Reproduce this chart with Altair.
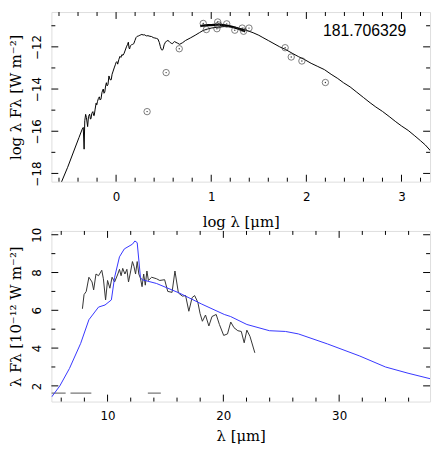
import altair as alt
import pandas as pd

# ---------------- top panel data ----------------
top_model_x = [-0.577, -0.509, -0.44, -0.39, -0.356, -0.345, -0.336, -0.329, -0.320, -0.312, -0.299,
               -0.290, -0.278, -0.270, -0.264, -0.255, -0.244, -0.236, -0.230, -0.220, -0.210, -0.203,
               -0.196, -0.186, -0.176, -0.168, -0.159, -0.148, -0.135, -0.127, -0.119, -0.110, -0.102,
               -0.094, -0.085, -0.075, -0.063, -0.051, -0.042, -0.034, -0.020, -0.008, 0.000, 0.008,
               0.017, 0.029, 0.041, 0.051, 0.061, 0.073, 0.085, 0.097, 0.109, 0.119, 0.129, 0.136,
               0.142, 0.150, 0.163, 0.175, 0.186, 0.198, 0.210, 0.222, 0.237, 0.250, 0.260, 0.271,
               0.285, 0.295, 0.305, 0.320, 0.335, 0.356, 0.373, 0.390, 0.407, 0.425, 0.440, 0.455,
               0.465, 0.475, 0.485, 0.495, 0.505, 0.519, 0.532, 0.545, 0.558, 0.570, 0.580, 0.593,
               0.605, 0.615, 0.630, 0.644, 0.668, 0.700, 0.729, 0.780, 0.831, 0.875, 0.916, 0.960,
               1.000, 1.060, 1.136, 1.200, 1.270, 1.330, 1.373, 1.440, 1.500, 1.543, 1.600, 1.660,
               1.720, 1.780, 1.850, 1.920, 1.980, 2.050, 2.120, 2.190, 2.260, 2.330, 2.390, 2.460,
               2.530, 2.600, 2.670, 2.730, 2.800, 2.870, 2.940, 3.000, 3.070, 3.140, 3.200, 3.250, 3.310]
top_model_y = [-18.44, -17.71, -16.89, -16.30, -15.90, -15.82, -16.85, -15.50, -15.20, -15.35, -15.78,
               -15.30, -15.19, -15.42, -15.41, -15.15, -15.07, -15.25, -15.26, -14.95, -14.67, -14.75,
               -14.60, -14.45, -14.37, -14.52, -14.48, -14.15, -14.00, -14.20, -14.15, -13.85, -13.70,
               -13.85, -13.78, -13.38, -13.56, -13.56, -13.30, -13.19, -13.00, -12.85, -12.74, -12.70,
               -12.82, -12.60, -12.45, -12.50, -12.37, -12.40, -12.30, -12.15, -12.00, -11.90, -11.78, -12.05,
               -12.10, -11.95, -11.90, -11.88, -11.85, -11.70, -11.56, -11.50, -11.48, -11.45, -11.43, -11.41,
               -11.44, -11.42, -11.45, -11.48, -11.47, -11.50, -11.51, -11.56, -11.58, -11.60, -11.63, -11.80,
               -11.98, -12.12, -12.16, -12.10, -11.90, -11.78, -11.72, -11.70, -11.74, -11.80, -11.83, -11.85,
               -11.78, -11.75, -11.79, -11.82, -11.88, -11.80, -11.70, -11.58, -11.45, -11.33, -11.22, -11.16,
               -11.11, -11.07, -11.04, -11.05, -11.10, -11.16, -11.22, -11.33, -11.45, -11.56, -11.70, -11.85,
               -12.00, -12.12, -12.30, -12.47, -12.60, -12.78, -12.93, -13.08, -13.30, -13.50, -13.70, -13.90,
               -14.15, -14.40, -14.65, -14.85, -15.06, -15.30, -15.55, -15.75, -15.96, -16.22, -16.45, -16.65, -16.95]

top_irs_x = [0.885, 0.91, 0.94, 0.97, 1.00, 1.03, 1.06, 1.08, 1.10, 1.13, 1.16, 1.19, 1.22, 1.25, 1.28, 1.31, 1.335, 1.356]
top_irs_y = [-11.02, -10.99, -10.98, -10.97, -10.97, -10.96, -10.95, -10.93, -10.96, -10.97, -10.99, -11.02, -11.05, -11.09, -11.13, -11.18, -11.22, -11.28]

phot_x = [0.326, 0.526, 0.664, 0.916, 0.949, 1.060, 1.068, 1.078, 1.163, 1.248, 1.326, 1.340, 1.397, 1.777, 1.841, 1.953, 2.200]
phot_y = [-15.07, -13.22, -12.09, -10.89, -11.18, -11.14, -10.82, -10.96, -10.91, -11.21, -11.11, -11.26, -11.11, -12.04, -12.48, -12.67, -13.69]

label_text = ["181.706329"]
label_x = [3.05]
label_y = [-11.26]

top_xmajor = [0, 1, 2, 3]
top_xminor = [-0.6, -0.4, -0.2, 0.2, 0.4, 0.6, 0.8, 1.2, 1.4, 1.6, 1.8, 2.2, 2.4, 2.6, 2.8, 3.2]
top_ymajor = [-18, -16, -14, -12]
top_yminor = [-17, -15, -13, -11]

# ---------------- bottom panel data ----------------
blue_x = [5.18, 5.88, 6.71, 7.68, 8.39, 9.22, 9.78, 10.33, 10.61, 11.03, 11.45, 12.15, 12.36, 12.56,
          12.84, 12.98, 14.23, 16.18, 18.13, 20.08, 20.63, 22.03, 23.98, 25.37, 26.48, 28.99, 31.78,
          34.0, 35.95, 37.85]
blue_y = [1.42, 2.0, 2.92, 4.25, 5.5, 6.17, 6.28, 6.55, 7.75, 8.83, 9.25, 9.5, 9.67, 9.58,
          7.75, 7.62, 7.42, 6.92, 6.33, 5.78, 5.67, 5.25, 4.92, 4.88, 4.75, 4.22, 3.58,
          3.0, 2.67, 2.38]

spec_x = [7.83, 7.97, 8.16, 8.39, 8.66, 8.8, 9.0, 9.22, 9.5, 9.64, 9.83, 10.0, 10.2, 10.39, 10.61,
          10.89, 11.03, 11.17, 11.31, 11.5, 11.67, 11.81, 12.0, 12.15, 12.28, 12.42, 12.56, 12.7,
          12.84, 12.98, 13.12, 13.26, 13.4, 13.53, 13.81, 14.23, 14.51, 14.93, 15.2, 15.57, 15.82,
          16.12, 16.46, 16.74, 17.02, 17.3, 17.52, 17.8, 17.99, 18.19, 18.46, 18.75, 19.02, 19.38,
          19.66, 20.03, 20.36, 20.64, 20.92, 21.25, 21.55, 21.8, 22.03, 22.3, 22.72]
spec_y = [6.08, 6.83, 7.0, 7.75, 7.5, 7.08, 7.92, 7.83, 8.12, 7.67, 6.55, 7.58, 7.17, 7.75, 7.5,
          7.92, 8.17, 7.83, 8.22, 7.92, 8.17, 7.5, 8.08, 8.58, 8.33, 7.92, 8.58, 7.92,
          7.7, 7.25, 7.92, 7.33, 8.08, 7.58, 7.75, 7.67, 7.58, 7.62, 7.0, 6.95, 8.08,
          6.92, 6.75, 6.78, 5.95, 6.67, 6.78, 6.42, 5.83, 5.42, 5.75, 5.17, 5.67, 5.78,
          5.25, 4.67, 4.75, 5.38, 5.08, 4.92, 4.88, 4.28, 4.95, 4.62, 3.75]

gray_x1 = [5.15, 6.8, 13.48]
gray_x2 = [6.38, 8.6, 14.6]
gray_y = [1.62, 1.62, 1.62]

bot_xmajor = [10, 20, 30]
bot_xminor = [6, 8, 12, 14, 16, 18, 22, 24, 26, 28, 32, 34, 36]
bot_ymajor = [2, 4, 6, 8, 10]
bot_yminor = [3, 5, 7, 9]

# ---------------- layout ----------------
W = 384
H1 = 172
H2 = 173
MAJ = 7
MIN = 4
LABEL_FONT = "DejaVu Sans"
TITLE_FONT = "DejaVu Serif"


def panel(xdom, ydom, xmaj, xmin, ymaj, ymin, xtitle, ytitle, H, xlabpad, xtitpad):
    xs = alt.Scale(domain=xdom, nice=False, zero=False)
    ys = alt.Scale(domain=ydom, nice=False, zero=False)
    xaxis = alt.Axis(values=xmaj, title=xtitle, format="d", domain=False, ticks=False, grid=False,
                     labelPadding=xlabpad, titlePadding=xtitpad, labelFont=LABEL_FONT,
                     labelFontSize=12, titleFont=TITLE_FONT, titleFontSize=15,
                     titleFontWeight="normal", labelColor="black", titleColor="black")
    yaxis = alt.Axis(values=ymaj, title=ytitle, format="d", domain=False, ticks=False, grid=False,
                     labelAngle=270, labelAlign="center", labelBaseline="bottom", labelPadding=8,
                     titlePadding=7, labelFont=LABEL_FONT, labelFontSize=12, titleFont=TITLE_FONT,
                     titleFontSize=15, titleFontWeight="normal", labelColor="black",
                     titleColor="black")

    def X(**kw):
        return alt.X("x:Q", scale=xs, axis=xaxis, **kw)

    def Y(**kw):
        return alt.Y("y:Q", scale=ys, axis=yaxis, **kw)

    layers = []
    for vals, ln in ((xmaj, MAJ), (xmin, MIN)):
        d = pd.DataFrame({"x": vals})
        layers.append(alt.Chart(d).mark_rule(color="black", strokeWidth=1).encode(
            x=X(), y=alt.value(H), y2=alt.value(H - ln)))
        layers.append(alt.Chart(d).mark_rule(color="black", strokeWidth=1).encode(
            x=X(), y=alt.value(0), y2=alt.value(ln)))
    for vals, ln in ((ymaj, MAJ), (ymin, MIN)):
        d = pd.DataFrame({"y": vals})
        layers.append(alt.Chart(d).mark_rule(color="black", strokeWidth=1).encode(
            y=Y(), x=alt.value(0), x2=alt.value(ln)))
        layers.append(alt.Chart(d).mark_rule(color="black", strokeWidth=1).encode(
            y=Y(), x=alt.value(W), x2=alt.value(W - ln)))
    return X, Y, layers


# ---------- top ----------
X1, Y1, top_layers = panel([-0.68, 3.30], [-18.39, -10.35], top_xmajor, top_xminor,
                           top_ymajor, top_yminor, "log λ [μm]", "log λ Fλ [W m⁻²]", H1, 10, 12)

df_tm = pd.DataFrame({"x": top_model_x, "y": top_model_y, "o": range(len(top_model_x))})
df_irs = pd.DataFrame({"x": top_irs_x, "y": top_irs_y, "o": range(len(top_irs_x))})
df_ph = pd.DataFrame({"x": phot_x, "y": phot_y})
df_lab = pd.DataFrame({"x": label_x, "y": label_y, "t": label_text})

top_layers += [
    alt.Chart(df_tm).mark_line(color="black", strokeWidth=1, clip=True).encode(
        x=X1(), y=Y1(), order="o:Q"),
    alt.Chart(df_irs).mark_line(color="black", strokeWidth=2.2, clip=True).encode(
        x=X1(), y=Y1(), order="o:Q"),
    alt.Chart(df_ph).mark_point(shape="circle", size=42, filled=False, color="#333333",
                                strokeWidth=0.9).encode(x=X1(), y=Y1()),
    alt.Chart(df_ph).mark_point(shape="circle", size=2, filled=True, color="#333333",
                                opacity=1).encode(x=X1(), y=Y1()),
    alt.Chart(df_lab).mark_text(align="right", baseline="middle", font="Liberation Sans",
                                fontSize=16, color="black").encode(x=X1(), y=Y1(), text="t:N"),
]
top = alt.layer(*top_layers).properties(width=W, height=H1)

# ---------- bottom ----------
X2, Y2, bot_layers = panel([5.15, 37.85], [1.17, 10.2], bot_xmajor, bot_xminor,
                           bot_ymajor, bot_yminor, "λ [μm]", "λ Fλ [10⁻¹² W m⁻²]", H2, 9, 8)

df_blue = pd.DataFrame({"x": blue_x, "y": blue_y, "o": range(len(blue_x))})
df_spec = pd.DataFrame({"x": spec_x, "y": spec_y, "o": range(len(spec_x))})
df_gray = pd.DataFrame({"x": gray_x1, "x2": gray_x2, "y": gray_y})

bot_layers += [
    alt.Chart(df_gray).mark_rule(color="#777777", strokeWidth=1.3, clip=True).encode(
        x=X2(), x2="x2:Q", y=Y2()),
    alt.Chart(df_spec).mark_line(color="#333333", strokeWidth=1, clip=True).encode(
        x=X2(), y=Y2(), order="o:Q"),
    alt.Chart(df_blue).mark_line(color="#3535ff", strokeWidth=1, clip=True).encode(
        x=X2(), y=Y2(), order="o:Q"),
]
bottom = alt.layer(*bot_layers).properties(width=W, height=H2)

chart = alt.vconcat(top, bottom, spacing=50, bounds="flush").properties(
    padding={"left": 0, "top": 0, "right": 2, "bottom": 0}
).configure_view(stroke="black", strokeWidth=1).configure(background="white")

chart.save("out.html", embed_options={"renderer": "svg", "actions": False})
